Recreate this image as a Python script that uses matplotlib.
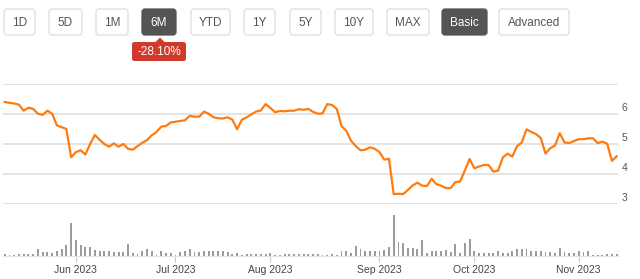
import numpy as np
import pandas as pd
import matplotlib
matplotlib.use('Agg')
import matplotlib.pyplot as plt
from matplotlib.patches import FancyBboxPatch, Polygon
from matplotlib import transforms

plt.rcParams['font.family'] = ['Liberation Sans', 'DejaVu Sans']

# trading days, 10 May 2023 - 13 Nov 2023
holidays = pd.to_datetime(['2023-05-29', '2023-06-19', '2023-07-04', '2023-09-04'])
dates = pd.bdate_range('2023-05-10', '2023-11-13')
dates = dates[~dates.isin(holidays)]

# closing price
price = [6.40, 6.37, 6.35, 6.31, 6.11, 6.21, 6.17, 6.01, 5.97, 6.11,
         6.01, 5.62, 5.56, 5.50, 4.56, 4.73, 4.79, 4.65, 5.00, 5.30,
         5.14, 5.00, 4.91, 5.02, 4.91, 5.00, 4.84, 4.81, 4.93, 5.04,
         5.13, 5.29, 5.40, 5.58, 5.60, 5.72, 5.74, 5.77, 5.79, 5.94,
         5.91, 5.91, 6.08, 6.01, 5.89, 5.86, 5.85, 5.89, 5.81, 5.49,
         5.81, 5.89, 5.99, 6.08, 6.12, 6.33, 6.20, 6.06, 6.10, 6.09,
         6.11, 6.11, 6.16, 6.14, 6.17, 6.07, 6.01,
         6.02, 6.33, 6.30, 6.17, 5.60, 5.44, 5.11, 4.93, 4.79, 4.81,
         4.89, 4.84, 4.73, 4.48, 4.51, 3.33, 3.34, 3.33, 3.47, 3.62,
         3.71, 3.61, 3.60, 3.84, 3.66, 3.61, 3.53, 3.53, 3.73, 3.75,
         4.12, 4.50, 4.19, 4.25, 4.30, 4.30, 4.08, 4.11, 4.55, 4.68,
         4.58, 4.93, 5.05, 5.49, 5.40, 5.33, 5.20, 4.68, 4.86, 4.95,
         5.36, 5.05, 5.03, 5.10, 5.16, 5.16, 5.19, 5.19, 5.03, 5.08,
         5.01, 4.44, 4.59]

# daily volume (relative units)
volume = [5, 3, 4, 6, 6, 6, 5, 22, 12, 12, 10, 14, 22, 34, 100, 48, 32, 28, 26, 18,
          14, 14, 14, 12, 12, 12, 36, 8, 6, 16, 20, 14, 4, 14, 10, 10, 4, 12, 14, 20,
          12, 12, 16, 14, 14, 14, 14, 12, 5, 8, 4, 6, 5, 5, 6, 6, 10, 3, 2, 6,
          5, 5, 6, 6, 6, 6, 5,
          4, 4, 6, 4, 14, 16, 8, 30, 20, 16, 16, 16, 16, 18, 26, 123, 42, 38, 24, 24,
          22, 48, 10, 14, 14, 16, 18, 12, 36, 8, 38, 50, 16, 10, 10, 8, 10, 16, 10, 8,
          14, 20, 22, 22, 16, 16, 14, 12, 12, 8, 24, 12, 10, 8, 14, 12, 16, 4, 2, 4,
          6, 6, 6]

price_ticks = [3, 4, 5, 6]
grid_levels = [3, 4, 5, 6, 7]
buttons = ['1D', '5D', '1M', '6M', 'YTD', '1Y', '5Y', '10Y', 'MAX', 'Basic', 'Advanced']
active = ['6M', 'Basic']
change_label = '-28.10%'

W, H = 640, 279
fig = plt.figure(figsize=(W / 100, H / 100), dpi=100)

x = np.arange(len(price))
xlim = (-0.36, len(price) - 1 + 0.28)

# price panel
ax = fig.add_axes([3 / W, (H - 204) / H, 615 / W, 120 / H])
for g in grid_levels:
    ax.axhline(g, color='#e2e2e2', lw=1.3, zorder=1)
ax.plot(x, price, color='#ff7b0f', lw=1.6, zorder=3, solid_joinstyle='round')
ax.set_xlim(*xlim)
ax.set_ylim(3, 7)
ax.axis('off')
lab_tr = transforms.blended_transform_factory(ax.transAxes, ax.transData) + \
    transforms.ScaledTranslation(0, 4 / 72, fig.dpi_scale_trans)
for t in price_ticks:
    ax.text(1.006, t, str(t), transform=lab_tr, ha='left', va='center',
            fontsize=7.5, color='#555555', clip_on=False)

# volume panel
axv = fig.add_axes([3 / W, (H - 256) / H, 615 / W, 50 / H])
axv.bar(x, volume, width=0.4, color='#9c9c9c', zorder=2)
axv.set_xlim(*xlim)
axv.set_ylim(0, 150)
for s in ['top', 'left', 'right']:
    axv.spines[s].set_visible(False)
axv.spines['bottom'].set_color('#e4e4e4')
axv.set_yticks([])
month_starts = pd.date_range('2023-06-01', '2023-11-01', freq='MS')
tick_pos = np.searchsorted(dates, month_starts)
axv.set_xticks(tick_pos)
axv.set_xticklabels([d.strftime('%b %Y') for d in month_starts])
axv.tick_params(axis='x', length=4.3, width=0.8, color='#cccccc', labelsize=7.5,
                labelcolor='#444444', pad=2)

# range selector buttons and change badge
ui = fig.add_axes([0, 0, 1, 1], zorder=5)
ui.set_xlim(0, W)
ui.set_ylim(H, 0)
ui.axis('off')
spans = [(4, 35), (49, 82), (96, 128), (142, 176), (191, 230), (244, 275),
         (290, 321), (335, 373), (387, 429), (442, 487), (499, 569)]
for name, (x0, x1) in zip(buttons, spans):
    on = name in active
    ui.add_patch(FancyBboxPatch((x0, 9), x1 - x0, 26,
                                boxstyle='round,pad=0,rounding_size=3',
                                fc='#545454' if on else 'white',
                                ec='#545454' if on else '#dddddd', lw=0.9))
    ui.text((x0 + x1) / 2, 22.5, name, ha='center', va='center', fontsize=8.5,
            color='white' if on else '#555555')
ui.add_patch(Polygon([[155, 42.5], [160, 37.5], [165, 42.5]], closed=True,
                     fc='#cf3a2c', ec='none'))
ui.add_patch(FancyBboxPatch((132, 42), 54, 19, boxstyle='round,pad=0,rounding_size=2.5',
                            fc='#cf3a2c', ec='none'))
ui.text(159, 51.8, change_label, ha='center', va='center', fontsize=8.5, color='white')

fig.savefig('out.png', dpi=100, facecolor='white')
